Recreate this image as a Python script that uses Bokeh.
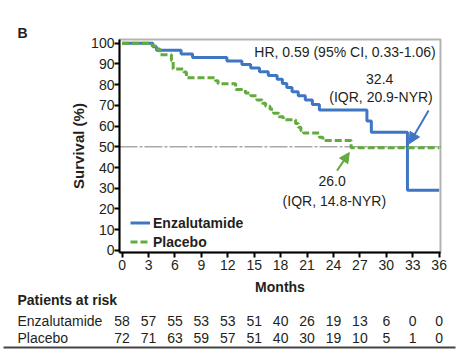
from bokeh.plotting import figure
from bokeh.models import (Label, Arrow, NormalHead, Legend, LegendItem,
                          FixedTicker, ColumnDataSource, LinearAxis, BoxAnnotation,
                          Range1d)
from bokeh.core.properties import value
from bokeh.embed import file_html
from bokeh.resources import INLINE

# ---------------- data ----------------
enz_months = [0, 3.5, 3.9, 6.7, 8.0, 11.9, 13.6, 14.6, 15.6, 16.6, 17.6, 18.2,
              18.7, 19.3, 20.0, 20.8, 21.6, 22.4, 27.8, 28.3, 32.4, 36]
enz_surv = [100, 98.3, 96.6, 94.8, 93.1, 91.4, 89.7, 88.0, 86.2, 84.4, 82.6, 80.6,
            78.6, 76.6, 74.6, 72.6, 70.4, 67.8, 62.5, 57.0, 29.0, 29.0]

pbo_months = [0, 3.4, 3.9, 4.3, 5.6, 5.8, 7.0, 7.3, 10.6, 10.9, 12.9, 14.0, 14.6,
              15.3, 15.9, 16.3, 16.8, 17.2, 17.8, 18.3, 19.7, 20.0, 20.3, 20.6,
              22.4, 22.8, 26.0, 36]
pbo_surv = [100, 98.6, 97.2, 94.4, 91.7, 87.5, 86.1, 83.3, 81.9, 80.4, 77.6, 76.0,
            74.6, 72.6, 71.0, 69.6, 68.1, 66.2, 64.5, 63.0, 61.2, 59.4, 57.8, 56.6,
            54.6, 53.0, 49.6, 49.6]

x_ticks = [0, 3, 6, 9, 12, 15, 18, 21, 24, 27, 30, 33, 36]
y_ticks = [0, 10, 20, 30, 40, 50, 60, 70, 80, 90, 100]

risk_groups = ["Enzalutamide", "Placebo"]
risk_enz = [58, 57, 55, 53, 53, 51, 40, 26, 19, 13, 6, 0, 0]
risk_pbo = [72, 71, 63, 59, 57, 51, 40, 30, 19, 10, 5, 1, 0]

enz_median = 32.4
pbo_median = 26.0
hr_text = "HR, 0.59 (95% CI, 0.33-1.06)"
enz_med_text = ["32.4", "(IQR, 20.9-NYR)"]
pbo_med_text = ["26.0", "(IQR, 14.8-NYR)"]

# ---------------- style / geometry ----------------
BLUE = "#3f76c4"
GREEN = "#63ab3f"
TXT = "#231f20"
FONT = "Liberation Sans"

W, H = 457, 352                 # canvas = plotting frame
ZERO_X, PX_MONTH = 121.6, 8.807  # pixel of month 0, pixels per month
ZERO_Y, PX_PCT = 249.9, 2.072    # pixel of 0 %, pixels per percent
X0, X1 = -0.3, 36.15             # extent of the chart box (months)
Y0, Y1 = -1.0, 101.8             # extent of the chart box (percent)

def mx(px):   # pixel column -> months
    return (px - ZERO_X) / PX_MONTH

def my(py):   # pixel row -> percent
    return (ZERO_Y - py) / PX_PCT

p = figure(frame_width=W, frame_height=H, output_backend="svg",
           toolbar_location=None, x_axis_type=None, y_axis_type=None,
           x_range=Range1d(mx(0), mx(W)), y_range=Range1d(my(H), my(0)),
           min_border=0)
p.background_fill_color = "white"
p.border_fill_color = "white"
p.outline_line_color = None
p.xgrid.visible = False
p.ygrid.visible = False

xaxis = LinearAxis(fixed_location=Y0, bounds=(X0, X1),
                   ticker=FixedTicker(ticks=x_ticks), axis_label="Months")
yaxis = LinearAxis(fixed_location=X0, bounds=(Y0, Y1),
                   ticker=FixedTicker(ticks=y_ticks), axis_label="Survival (%)")
for ax in (xaxis, yaxis):
    ax.axis_line_color = "black"
    ax.axis_line_width = 2
    ax.major_tick_line_color = "black"
    ax.major_tick_line_width = 2
    ax.major_tick_out = 5
    ax.major_tick_in = 0
    ax.minor_tick_line_color = None
    ax.major_label_text_font = FONT
    ax.major_label_text_font_size = "14px"
    ax.major_label_text_color = TXT
    ax.axis_label_text_font = FONT
    ax.axis_label_text_font_style = "bold"
    ax.axis_label_text_color = TXT
xaxis.axis_label_text_font_size = "14px"
xaxis.axis_label_standoff = 5
xaxis.major_label_standoff = 3
yaxis.axis_label_text_font_size = "15px"
yaxis.axis_label_standoff = 1
yaxis.major_label_standoff = 0
p.add_layout(xaxis, "below")
p.add_layout(yaxis, "left")

# chart box (top and right edges)
p.add_layout(BoxAnnotation(left=X0, right=X1, bottom=Y0, top=Y1,
                           fill_color=None, line_color="black", line_width=2))

# 50 % reference line
p.segment(x0=[X0], x1=[X1], y0=[50], y1=[50], line_color="#a8a8a8",
          line_width=1.5, line_dash="18 2 3 2")

r_enz = p.step(enz_months, enz_surv, mode="after", line_color=BLUE, line_width=3)
r_pbo = p.step(pbo_months, pbo_surv, mode="after", line_color=GREEN, line_width=3,
               line_dash="7 3")

legend = Legend(items=[LegendItem(label=risk_groups[0], renderers=[r_enz]),
                       LegendItem(label=risk_groups[1], renderers=[r_pbo])],
                location=(130, H - 251), padding=0, margin=0, spacing=0,
                background_fill_alpha=0, border_line_color=None,
                label_text_font=FONT, label_text_font_style="bold",
                label_text_font_size="14px", label_text_color=TXT,
                glyph_width=20, glyph_height=19, label_height=19,
                label_standoff=3)
p.add_layout(legend, "center")

def lab(x, y, text, align="center", size="14px", bold=False):
    p.add_layout(Label(x=x, y=y, text=text, text_align=align,
                       text_baseline="middle", text_font=FONT,
                       text_font_size=size, text_color=TXT,
                       text_font_style="bold" if bold else "normal"))

lab(35.6, 95.7, hr_text, align="right")
lab(enz_median - 3.15, 82.8, enz_med_text[0])
lab(enz_median - 3.0, 73.9, enz_med_text[1])
lab(pbo_median - 2.15, 33.4, pbo_med_text[0])
lab(pbo_median - 1.9, 23.7, pbo_med_text[1])

p.add_layout(Arrow(end=NormalHead(size=11, fill_color=BLUE, line_color=BLUE),
                   x_start=enz_median + 2.4, y_start=67.5,
                   x_end=enz_median + 0.2, y_end=51.5,
                   line_color=BLUE, line_width=2))
p.add_layout(Arrow(end=NormalHead(size=10, fill_color=GREEN, line_color=GREEN),
                   x_start=pbo_median - 1.6, y_start=38.5,
                   x_end=pbo_median - 0.2, y_end=47.2,
                   line_color=GREEN, line_width=2))

# panel letter
lab(mx(17), my(32.5), "B", align="left", bold=True)

# ---------------- risk table ----------------
row_y = [my(320), my(337)]
lab(mx(17), my(299), "Patients at risk", align="left", bold=True)
p.text(x=[mx(17)] * 2, y=row_y, text=risk_groups, text_font=value(FONT),
       text_font_size="14px", text_color=TXT, text_baseline="middle",
       text_align="left")
src = ColumnDataSource(dict(
    x=x_ticks + x_ticks,
    y=[row_y[0]] * len(x_ticks) + [row_y[1]] * len(x_ticks),
    t=[str(v) for v in risk_enz] + [str(v) for v in risk_pbo]))
p.text(x="x", y="y", text="t", source=src, text_font=value(FONT),
       text_font_size="14px", text_color=TXT, text_baseline="middle",
       text_align="center")
p.segment(x0=[mx(3)], y0=[my(347)], x1=[mx(455)], y1=[my(347)],
          line_color="#444444", line_width=2)

open("out.html", "w").write(file_html(p, INLINE))
